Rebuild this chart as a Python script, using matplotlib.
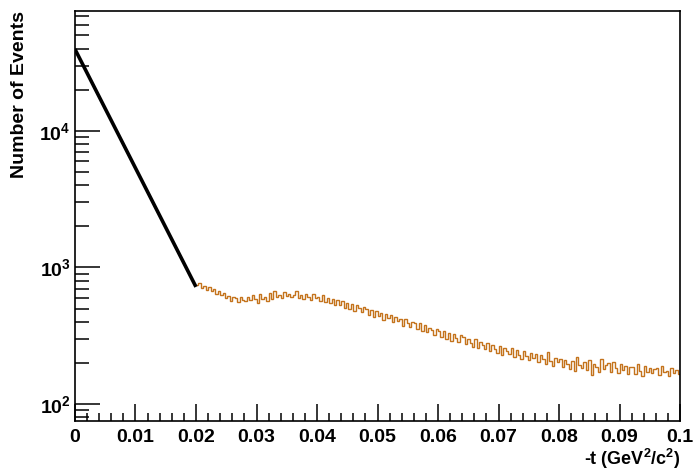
import numpy as np
import matplotlib
matplotlib.use("Agg")
from matplotlib import pyplot as plt
from matplotlib.ticker import MultipleLocator, LogLocator, FuncFormatter, NullFormatter

# fit line (exponential slope in -t)
fit_t = [0.0, 0.02]
fit_n = [39700, 721]

# histogram -t from 0.02 to 0.1, bin width 0.0004
bin_lo = 0.02
bin_hi = 0.1
counts = [
    748, 775, 712, 736, 690, 722, 668, 701, 645, 672,
    628, 655, 598, 620, 572, 606, 593, 558, 612, 581,
    566, 609, 578, 629, 588, 552, 641, 583, 606, 571,
    652, 589, 668, 611, 624, 597, 660, 618, 639, 606,
    633, 671, 602, 628, 590, 645, 611, 579, 637, 594,
    612, 570, 628, 556, 601, 548, 590, 528, 575, 533,
    566, 509, 548, 497, 541, 483, 530, 502, 471, 512,
    498, 452, 489, 437, 481, 444, 466, 413, 458, 427,
    446, 398, 432, 405, 421, 372, 418, 391, 366, 401,
    392, 352, 389, 341, 377, 336, 361, 348, 322, 356,
    345, 311, 340, 302, 333, 292, 327, 305, 284, 318,
    308, 274, 301, 281, 263, 297, 256, 285, 270, 251,
    279, 243, 272, 251, 238, 266, 229, 258, 244, 231,
    257, 222, 249, 230, 214, 245, 226, 209, 238, 219,
    232, 204, 228, 212, 196, 241, 207, 190, 219, 203,
    214, 188, 211, 197, 182, 206, 176, 221, 193, 185,
    202, 179, 209, 162, 196, 188, 172, 214, 181, 193,
    199, 171, 204, 183, 168, 197, 178, 190, 165, 186,
    188, 166, 195, 174, 161, 191, 172, 183, 169, 180,
    184, 163, 189, 171, 176, 160, 185, 169, 178, 166,
]
edges = np.linspace(bin_lo, bin_hi, len(counts) + 1)

plt.rcParams['font.family'] = ['Liberation Sans', 'DejaVu Sans']
plt.rcParams['font.weight'] = 'bold'
plt.rcParams['mathtext.fontset'] = 'custom'
plt.rcParams['mathtext.rm'] = 'Liberation Sans:bold'
plt.rcParams['mathtext.bf'] = 'Liberation Sans:bold'
plt.rcParams['mathtext.it'] = 'Liberation Sans:bold'

fig = plt.figure(figsize=(6.94, 4.70), dpi=100)
ax = fig.add_axes([0.108, 0.104, 0.872, 0.873])

ax.stairs(counts, edges, baseline=None, color='#c4731c', lw=1.0)
ax.plot(fit_t, fit_n, color='black', lw=2.6, solid_capstyle='butt')

ax.set_yscale('log')
ax.set_xlim(0, 0.1)
ax.set_ylim(75, 75800)

ax.xaxis.set_major_locator(MultipleLocator(0.01))
ax.xaxis.set_minor_locator(MultipleLocator(0.002))
ax.xaxis.set_major_formatter(FuncFormatter(lambda v, p: '0' if abs(v) < 1e-9 else ('0.1' if abs(v - 0.1) < 1e-9 else '%.2f' % v)))
ax.yaxis.set_major_locator(LogLocator(base=10))
ax.yaxis.set_minor_locator(LogLocator(base=10, subs=np.arange(2, 10)))
ax.yaxis.set_minor_formatter(NullFormatter())
ax.yaxis.set_major_formatter(FuncFormatter(lambda v, p: r'$10^{%d}$' % round(np.log10(v))))

ax.tick_params(axis='x', which='major', direction='in', length=12, width=1.1, labelsize=14, pad=6, top=False)
ax.tick_params(axis='x', which='minor', direction='in', length=6, width=1.1, top=False)
ax.tick_params(axis='y', which='major', direction='in', length=18, width=1.1, labelsize=14, pad=3, right=False)
ax.tick_params(axis='y', which='minor', direction='in', length=10, width=1.1, right=False)
for s in ax.spines.values():
    s.set_linewidth(1.2)

ax.set_ylabel('Number of Events', fontsize=14, fontweight='bold', loc='top')
ax.yaxis.set_label_coords(-0.077, 1.0)
ax.set_xlabel(r'-t (GeV$^{2}$/c$^{2}$)', fontsize=13, fontweight='bold', loc='right')
ax.xaxis.set_label_coords(1.0, -0.063)

fig.savefig('out.png', dpi=100)
